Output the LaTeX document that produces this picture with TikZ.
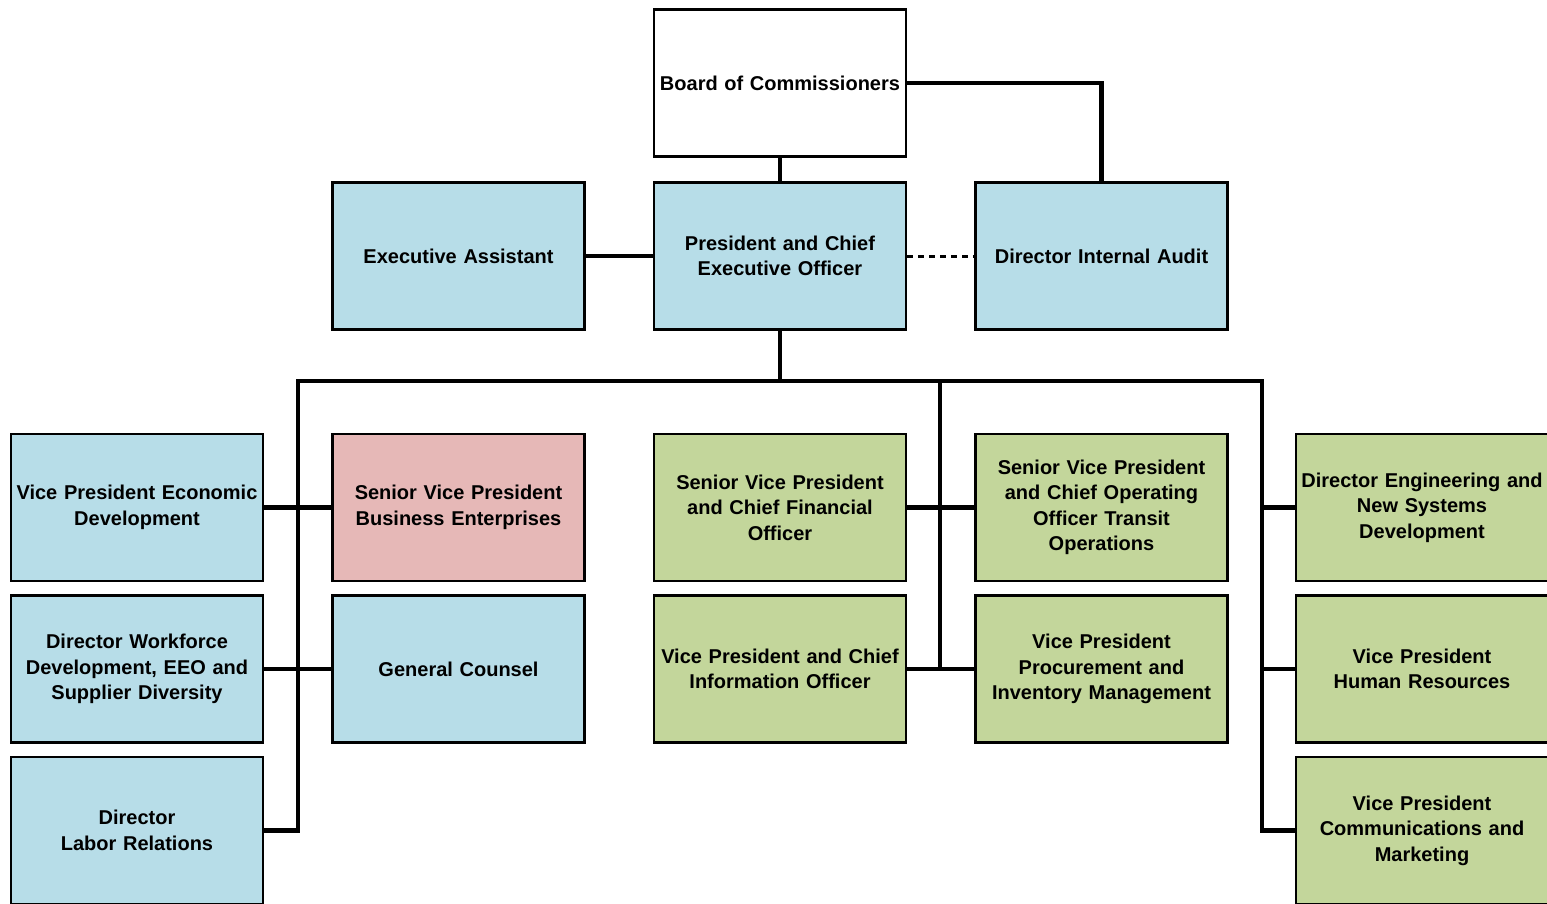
\documentclass[tikz,border=0pt]{standalone}
\usepackage{fontspec}
\setmainfont{Liberation Sans}
\definecolor{cblue}{HTML}{B7DDE8}
\definecolor{cgreen}{HTML}{C3D69B}
\definecolor{cpink}{HTML}{E6B8B7}
\begin{document}
\begin{tikzpicture}[x=1pt,y=-1pt,
  box/.style={draw, line width=2.6pt, minimum width=252pt, minimum height=147pt,
    inner sep=0pt, align=center, text width=250pt,
    font=\fontsize{20}{25.5}\selectfont\bfseries},
  bluebox/.style={box, fill=cblue},
  greenbox/.style={box, fill=cgreen},
  pinkbox/.style={box, fill=cpink},
  conn/.style={line width=4.2pt, line join=miter}]
\useasboundingbox (0,0) rectangle (1547,904);
\fill[white] (0,0) rectangle (1547,904);
% top
\node[box, fill=white] (board) at (780,83) {Board of Commissioners};
\node[bluebox] (ea) at (458.5,256) {Executive Assistant};
\node[bluebox] (ceo) at (780,256) {President and Chief\\Executive Officer};
\node[bluebox] (audit) at (1101.5,256) {Director Internal Audit};
% column 0
\node[bluebox] (vpe) at (137,507.5) {Vice President Economic\\Development};
\node[bluebox] (dwf) at (137,669) {Director Workforce\\Development, EEO and\\Supplier Diversity};
\node[bluebox] (dlr) at (137,830.5) {Director\\Labor Relations};
% column 1
\node[pinkbox] (svpb) at (458.5,507.5) {Senior Vice President\\Business Enterprises};
\node[bluebox] (gc) at (458.5,669) {General Counsel};
% column 2
\node[greenbox] (cfo) at (780,507.5) {Senior Vice President\\and Chief Financial\\Officer};
\node[greenbox] (cio) at (780,669) {Vice President and Chief\\Information Officer};
% column 3
\node[greenbox] (coo) at (1101.5,507.5) {Senior Vice President\\and Chief Operating\\Officer Transit\\Operations};
\node[greenbox] (vpp) at (1101.5,669) {Vice President\\Procurement and\\Inventory Management};
% column 4
\node[greenbox] (dens) at (1422,507.5) {Director Engineering and\\New Systems\\Development};
\node[greenbox] (vphr) at (1422,669) {Vice President\\Human Resources};
\node[greenbox] (vpcm) at (1422,830.5) {Vice President\\Communications and\\Marketing};
% bus coordinates
\coordinate (bl) at (298,381);
\coordinate (bm) at (940,381);
\coordinate (br) at (1262,381);
% connectors
\draw[conn] (board.south) -- (ceo.north);
\draw[conn] (board.east) -| (audit.north);
\draw[conn] (ea.east) -- (ceo.west);
\draw[line width=3pt, dash pattern=on 6pt off 5pt] (ceo.east) -- (audit.west);
\draw[conn] (ceo.south) -- (ceo.south |- bl);
\draw[conn] (dlr.east) -| (bl) -- (br) |- (vpcm.west);
\draw[conn] (vpe.east) -- (svpb.west);
\draw[conn] (dwf.east) -- (gc.west);
\draw[conn] (bm) -- (bm |- vpp.west);
\draw[conn] (cfo.east) -- (coo.west);
\draw[conn] (cio.east) -- (vpp.west);
\draw[conn] (br |- dens.west) -- (dens.west);
\draw[conn] (br |- vphr.west) -- (vphr.west);
\end{tikzpicture}
\end{document}
